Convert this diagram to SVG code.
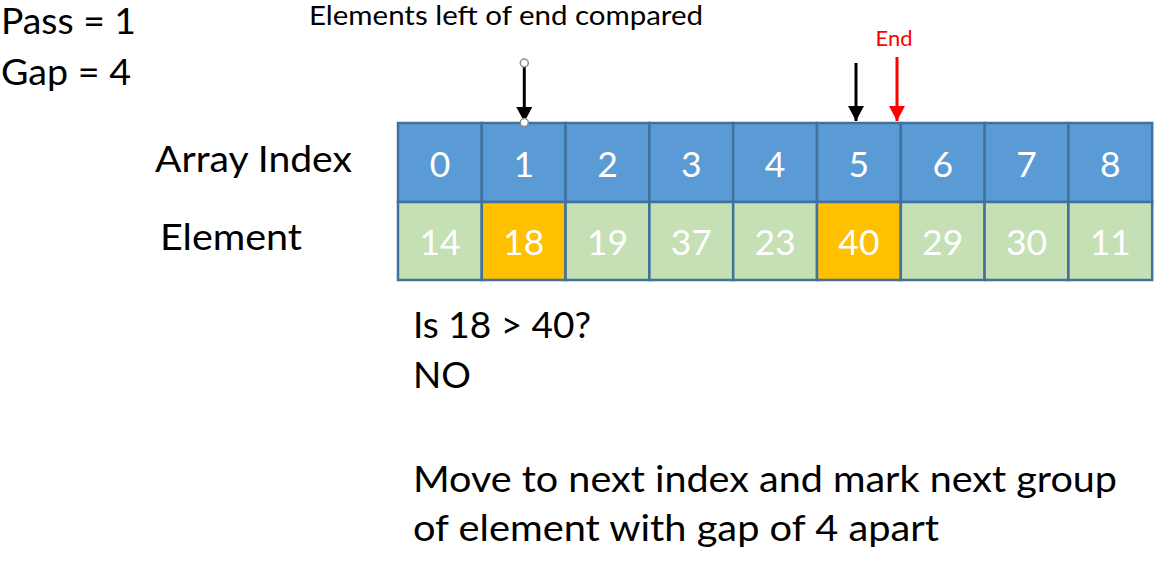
<svg xmlns="http://www.w3.org/2000/svg" width="1170" height="565" viewBox="0 0 1170 565">
<style>
text{font-family:Lato,"Liberation Sans",sans-serif;}
.lbl{font-size:37px;fill:#000;}
.idx rect{fill:#5B9BD5;stroke:#41719C;stroke-width:2.5;}
.el rect{fill:#C5E0B4;stroke:#41719C;stroke-width:2.5;}
.el.hl rect{fill:#FFC000;}
.cell text{font-size:35.5px;fill:#fff;text-anchor:middle;}
.arr{stroke:#000;stroke-width:3;fill:none;marker-end:url(#ah);}
.arr.red{stroke:#FF0000;marker-end:url(#ahr);}
.handle{fill:#fff;stroke:#8C8C8C;stroke-width:1.5;}
</style>
<defs>
<marker id="ah" markerUnits="userSpaceOnUse" markerWidth="16" markerHeight="16" refX="15" refY="8" orient="auto"><path d="M0,0 L15,8 L0,16 z" fill="#000"/></marker>
<marker id="ahr" markerUnits="userSpaceOnUse" markerWidth="16" markerHeight="16" refX="15" refY="8" orient="auto"><path d="M0,0 L15,8 L0,16 z" fill="#FF0000"/></marker>
</defs>
<rect width="1170" height="565" fill="#fff"/>

<g id="pass-label"><text class="lbl" x="1" y="34" textLength="135" lengthAdjust="spacingAndGlyphs">Pass = 1</text></g>
<g id="gap-label"><text class="lbl" x="1" y="85" textLength="130" lengthAdjust="spacingAndGlyphs">Gap = 4</text></g>
<g id="title-label"><text x="309" y="25" font-size="27.5" textLength="394" lengthAdjust="spacingAndGlyphs">Elements left of end compared</text></g>
<g id="end-label"><text x="894" y="46" font-size="22" fill="#FF0000" text-anchor="middle">End</text></g>
<g id="array-index-label"><text class="lbl" x="155" y="172" textLength="197" lengthAdjust="spacingAndGlyphs">Array Index</text></g>
<g id="element-label"><text class="lbl" x="160" y="250" textLength="142" lengthAdjust="spacingAndGlyphs">Element</text></g>

<g id="index-row">
<g id="idx0" class="cell idx"><rect x="398" y="123" width="83.8" height="79"/><text x="440" y="176.5">0</text></g>
<g id="idx1" class="cell idx"><rect x="481.8" y="123" width="83.8" height="79"/><text x="523.7" y="176.5">1</text></g>
<g id="idx2" class="cell idx"><rect x="565.6" y="123" width="83.8" height="79"/><text x="607.5" y="176.5">2</text></g>
<g id="idx3" class="cell idx"><rect x="649.4" y="123" width="83.8" height="79"/><text x="691.3" y="176.5">3</text></g>
<g id="idx4" class="cell idx"><rect x="733.2" y="123" width="83.8" height="79"/><text x="775.1" y="176.5">4</text></g>
<g id="idx5" class="cell idx"><rect x="817" y="123" width="83.8" height="79"/><text x="858.9" y="176.5">5</text></g>
<g id="idx6" class="cell idx"><rect x="900.8" y="123" width="83.8" height="79"/><text x="942.7" y="176.5">6</text></g>
<g id="idx7" class="cell idx"><rect x="984.6" y="123" width="83.8" height="79"/><text x="1026.5" y="176.5">7</text></g>
<g id="idx8" class="cell idx"><rect x="1068.4" y="123" width="83.8" height="79"/><text x="1110.3" y="176.5">8</text></g>
</g>

<g id="element-row">
<g id="el0" class="cell el"><rect x="398" y="202" width="83.8" height="78"/><text x="440" y="255">14</text></g>
<g id="el1" class="cell el hl"><rect x="481.8" y="202" width="83.8" height="78"/><text x="523.7" y="255">18</text></g>
<g id="el2" class="cell el"><rect x="565.6" y="202" width="83.8" height="78"/><text x="607.5" y="255">19</text></g>
<g id="el3" class="cell el"><rect x="649.4" y="202" width="83.8" height="78"/><text x="691.3" y="255">37</text></g>
<g id="el4" class="cell el"><rect x="733.2" y="202" width="83.8" height="78"/><text x="775.1" y="255">23</text></g>
<g id="el5" class="cell el hl"><rect x="817" y="202" width="83.8" height="78"/><text x="858.9" y="255">40</text></g>
<g id="el6" class="cell el"><rect x="900.8" y="202" width="83.8" height="78"/><text x="942.7" y="255">29</text></g>
<g id="el7" class="cell el"><rect x="984.6" y="202" width="83.8" height="78"/><text x="1026.5" y="255">30</text></g>
<g id="el8" class="cell el"><rect x="1068.4" y="202" width="83.8" height="78"/><text x="1110.3" y="255">11</text></g>
</g>

<g id="connectors">
<line class="arr" x1="524.3" y1="63" x2="524.3" y2="122"/>
<circle class="handle" cx="524.3" cy="63" r="4"/>
<circle class="handle" cx="524.3" cy="122.5" r="4"/>
<line class="arr" x1="856" y1="63" x2="856" y2="121"/>
<line class="arr red" x1="897" y1="57" x2="897" y2="121"/>
</g>

<g id="question"><text class="lbl" x="413" y="338">Is 18 &gt; 40?</text><text class="lbl" x="413" y="388">NO</text></g>
<g id="note"><text class="lbl" x="413" y="492" textLength="704" lengthAdjust="spacingAndGlyphs">Move to next index and mark next group</text><text class="lbl" x="413" y="541" textLength="526" lengthAdjust="spacingAndGlyphs">of element with gap of 4 apart</text></g>
</svg>
